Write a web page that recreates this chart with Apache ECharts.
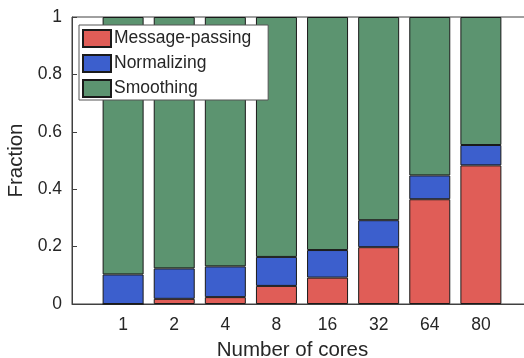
<!DOCTYPE html>
<html>
<head>
<meta charset="utf-8">
<script src="https://cdn.jsdelivr.net/npm/echarts@6/dist/echarts.min.js"></script>
<style>
  html, body { margin: 0; padding: 0; background: #fff; }
  #chart { width: 524px; height: 358px; }
</style>
</head>
<body>
<div id="chart"></div>
<script>
// Share of run time per phase, by number of cores
const categories = ['1', '2', '4', '8', '16', '32', '64', '80'];
const messagePassing = [0, 0.018, 0.024, 0.063, 0.092, 0.198, 0.365, 0.483];
const normalizing   = [0.103, 0.106, 0.107, 0.101, 0.096, 0.094, 0.083, 0.071];
const smoothing     = [0.897, 0.876, 0.869, 0.836, 0.812, 0.708, 0.552, 0.446];
const yTicks = [0, 0.2, 0.4, 0.6, 0.8, 1];

const FONT = '"Liberation Sans", Arial, Helvetica, sans-serif';
const TEXT = '#262626';
const AXIS = '#404040';

// one empty slot on each side so the bars sit at positions 1..8 of 0..9
const axisCategories = [''].concat(categories, ['']);
const padded = arr => [null].concat(arr, [null]);

function barSeries(name, data, color) {
  return {
    name: name,
    type: 'bar',
    stack: 'total',
    barWidth: 41,
    data: padded(data),
    itemStyle: { color: color, borderColor: '#1a1a1a', borderWidth: 1 },
    emphasis: { disabled: true }
  };
}

const chart = echarts.init(document.getElementById('chart'), null, { renderer: 'canvas' });
chart.setOption({
  animation: false,
  backgroundColor: '#fff',
  textStyle: { fontFamily: FONT },
  grid: {
    left: 72, top: 17, width: 460, height: 287,
    outerBoundsMode: 'none',
    containLabel: false,
    show: true, borderColor: AXIS, borderWidth: 1, backgroundColor: 'transparent'
  },
  legend: {
    orient: 'vertical',
    left: 79, top: 25,
    icon: 'rect',
    itemWidth: 28, itemHeight: 17, itemGap: 6,
    padding: [4, 17, 2, 3],
    backgroundColor: '#fff',
    borderColor: '#555', borderWidth: 1,
    textStyle: { fontFamily: FONT, fontSize: 17.5, color: TEXT, lineHeight: 17, padding: [0, 0, 0, -2] },
    data: ['Message-passing', 'Normalizing', 'Smoothing']
  },
  xAxis: {
    type: 'category',
    data: axisCategories,
    boundaryGap: false,
    name: 'Number of cores',
    nameLocation: 'middle',
    nameGap: 36,
    nameTextStyle: { fontFamily: FONT, fontSize: 20.5, color: TEXT, padding: [0, 19, 0, 0] },
    axisLine: { show: true, onZero: false, lineStyle: { color: AXIS, width: 1 } },
    axisTick: { show: false },
    splitLine: { show: false },
    axisLabel: { fontFamily: FONT, fontSize: 17.5, color: TEXT, margin: 12, interval: 0 }
  },
  yAxis: {
    type: 'value',
    min: 0, max: 1, interval: 0.2,
    name: 'Fraction',
    nameLocation: 'middle',
    nameGap: 44,
    nameTextStyle: { fontFamily: FONT, fontSize: 20.5, color: TEXT },
    axisLine: { show: true, lineStyle: { color: AXIS, width: 1 } },
    axisTick: { show: true, inside: true, length: 5, lineStyle: { color: AXIS } },
    splitLine: { show: false },
    axisLabel: {
      fontFamily: FONT, fontSize: 17.5, color: TEXT, margin: 10,
      formatter: v => (yTicks.some(t => Math.abs(t - v) < 1e-9) ? String(+v.toFixed(1)) : '')
    }
  },
  series: [
    barSeries('Message-passing', messagePassing, '#e05d57'),
    barSeries('Normalizing', normalizing, '#3c5fcd'),
    barSeries('Smoothing', smoothing, '#5c9470')
  ]
});
</script>
</body>
</html>
